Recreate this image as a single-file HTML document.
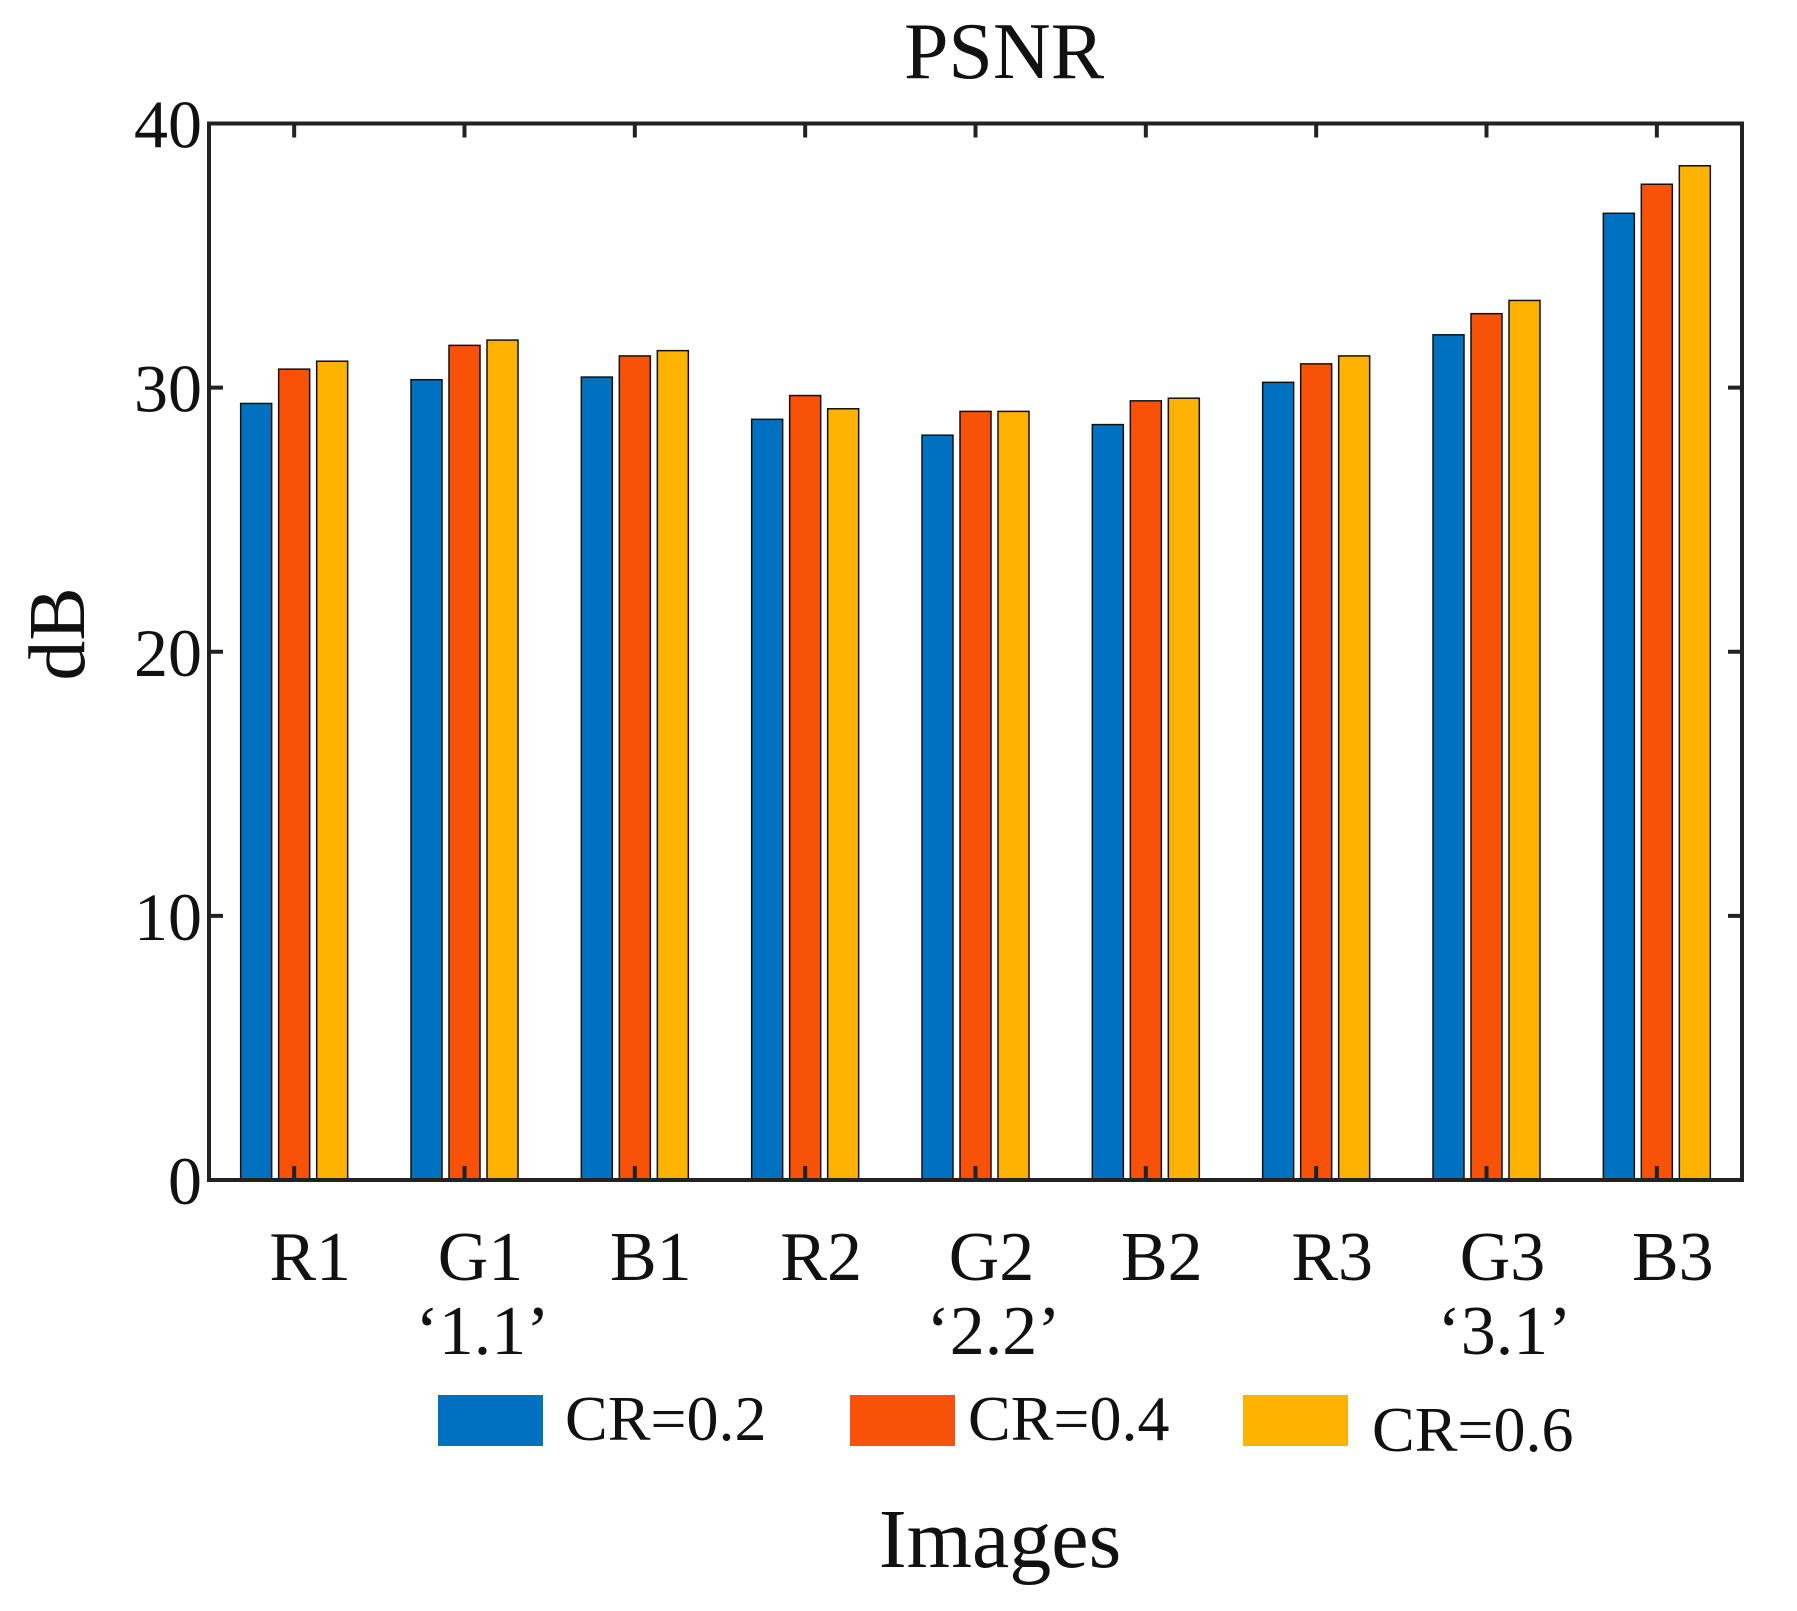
<!DOCTYPE html>
<html><head><meta charset="utf-8"><style>
html,body{margin:0;padding:0;background:#fff;}
svg{display:block;}
text{font-family:"Liberation Serif",serif;fill:#111;}
</style></head><body>
<svg id="chart" width="1797" height="1611" viewBox="0 0 1797 1611">
<text x="1004" y="78" font-size="80" text-anchor="middle">PSNR</text>
<g id="bars"></g>
<g id="axes"></g>
<text transform="translate(84,634) rotate(-90)" font-size="80" text-anchor="middle">dB</text>
<text x="1000" y="1567" font-size="84" text-anchor="middle">Images</text>
<g>
<g><rect x="438" y="1395" width="105" height="51" fill="#0071BF"/><text x="565" y="1440" font-size="64">CR=0.2</text></g>
<g><rect x="850" y="1395" width="105" height="51" fill="#F85208"/><text x="968" y="1440" font-size="64">CR=0.4</text></g>
<g><rect x="1243" y="1395" width="105" height="51" fill="#FFB300"/><text x="1372" y="1451" font-size="64">CR=0.6</text></g>
</g>
</svg>
<script>
const categories = ["R1","G1","B1","R2","G2","B2","R3","G3","B3"];
const subLabels = ["", "‘1.1’", "", "", "‘2.2’", "", "", "‘3.1’", ""];
const cr02 = [29.4,30.3,30.4,28.8,28.2,28.6,30.2,32.0,36.6];
const cr04 = [30.7,31.6,31.2,29.7,29.1,29.5,30.9,32.8,37.7];
const cr06 = [31.0,31.8,31.4,29.2,29.1,29.6,31.2,33.3,38.4];
const yTicks = [0,10,20,30,40];
const seriesNames = ["cr-0.2","cr-0.4","cr-0.6"];

const L=209, R=1742, T=123.5, B=1180;
const yMax=40;
const NS="http://www.w3.org/2000/svg";
function y(v){return B-(v/yMax)*(B-T);}
function xc(i){return L+(i+0.5)*(R-L)/categories.length;}
const barW=31, barOff=38;
const colors=["#0071BF","#F85208","#FFB300"];
const series=[cr02,cr04,cr06];
const bars=document.getElementById('bars');
const axes=document.getElementById('axes');
function mk(tag,attrs,parent){const e=document.createElementNS(NS,tag);for(const k in attrs)e.setAttribute(k,attrs[k]);parent.appendChild(e);return e;}
series.forEach((s,si)=>{
  s.forEach((v,i)=>{
    const r=mk('rect',{x:xc(i)+(si-1)*barOff-barW/2,y:y(v),width:barW,height:B-y(v),fill:colors[si],stroke:'#111','stroke-width':1.5},bars);
    
    
  });
});
const fr=mk('path',{d:`M${L},${T}H${R}V${B}H${L}Z`,fill:'none',stroke:'#222','stroke-width':4},axes);


yTicks.forEach(t=>{
  const yy=y(t);
  mk('line',{x1:L,x2:L+14,y1:yy,y2:yy,stroke:'#222','stroke-width':4},axes);
  mk('line',{x1:R,x2:R-14,y1:yy,y2:yy,stroke:'#222','stroke-width':4},axes);
  const tx=mk('text',{x:202,y:yy+24,'font-size':68,'text-anchor':'end'},axes);
  tx.textContent=t;
  
  
});
categories.forEach((c,i)=>{
  const xx=xc(i);
  mk('line',{x1:xx,x2:xx,y1:T,y2:T+14,stroke:'#222','stroke-width':4},axes);
  mk('line',{x1:xx,x2:xx,y1:B,y2:B-14,stroke:'#222','stroke-width':4},axes);
  const tx=mk('text',{x:xx+16,y:1280,'font-size':70,'text-anchor':'middle'},axes);
  tx.textContent=c;
  
  
  if(subLabels[i]){
    const st=mk('text',{x:xx+18,y:1354,'font-size':70,'text-anchor':'middle'},axes);
    st.textContent=subLabels[i];
    
    
  }
});
</script>
</body></html>
